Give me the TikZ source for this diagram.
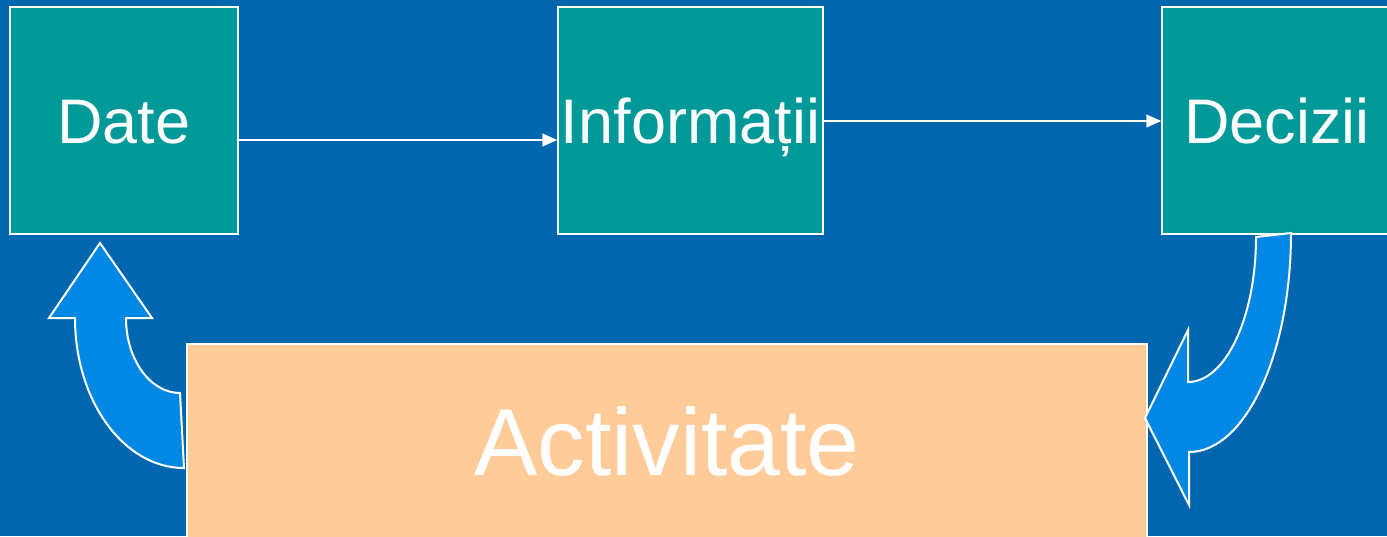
\documentclass[tikz,border=0pt]{standalone}
\usepackage{fontspec}
\setmainfont{Liberation Sans}
\usetikzlibrary{arrows.meta}
\definecolor{bg}{RGB}{0,102,176}
\definecolor{teal1}{RGB}{0,153,153}
\definecolor{arrowblue}{RGB}{0,136,228}
\definecolor{peach}{RGB}{255,204,153}
\tikzset{
  box/.style={draw=white, line width=1.5pt, fill=teal1, text=white, inner sep=0pt,
    minimum height=227pt, text height=46pt, text depth=0pt, font=\fontsize{63}{70}\selectfont},
  actbox/.style={fill=peach, text=white, inner sep=0pt, draw=white, line width=1.5pt,
    text height=69pt, text depth=0pt, font=\fontsize{95}{100}\selectfont},
  conn/.style={draw=white, line width=1.5pt, -{Triangle[length=15pt,width=13pt]}},
  bigarrow/.style={fill=arrowblue, draw=white, line width=2pt, line join=miter}
}
\begin{document}
\begin{tikzpicture}[x=1pt,y=-1pt]
\fill[bg] (0,0) rectangle (1387,536);
\useasboundingbox (0,0) rectangle (1387,536);
\node[box, minimum width=228pt] (date) at (124,120.5) {Date};
\node[box, minimum width=265pt] (info) at (690.5,120.5) {Informații};
\node[box, minimum width=230pt] (dec) at (1277,120.5) {Decizii};
\node[actbox, minimum width=960pt, minimum height=194pt] (act) at (667,441) {Activitate};
\draw[conn] (date.east |- 0,140) -- (info.west |- 0,140);
\draw[conn] (info.east |- 0,121) -- (dec.west |- 0,121);
% left curved arrow (Activitate -> Date)
\path[bigarrow] (184,468) .. controls (123.8,468) and (75,400.8) .. (75,318)
  -- (49,318) -- (100,243) -- (152,318) -- (126,318)
  .. controls (126,359.4) and (150.2,393) .. (180,393) -- cycle;
% right curved arrow (Decizii -> Activitate)
\path[bigarrow] (1291,233) .. controls (1291,354) and (1245.3,452) .. (1189,452)
  -- (1189,505) -- (1145,418) -- (1188,330) -- (1188,382)
  .. controls (1225.6,382) and (1256,317) .. (1256,237) -- cycle;
\end{tikzpicture}
\end{document}
